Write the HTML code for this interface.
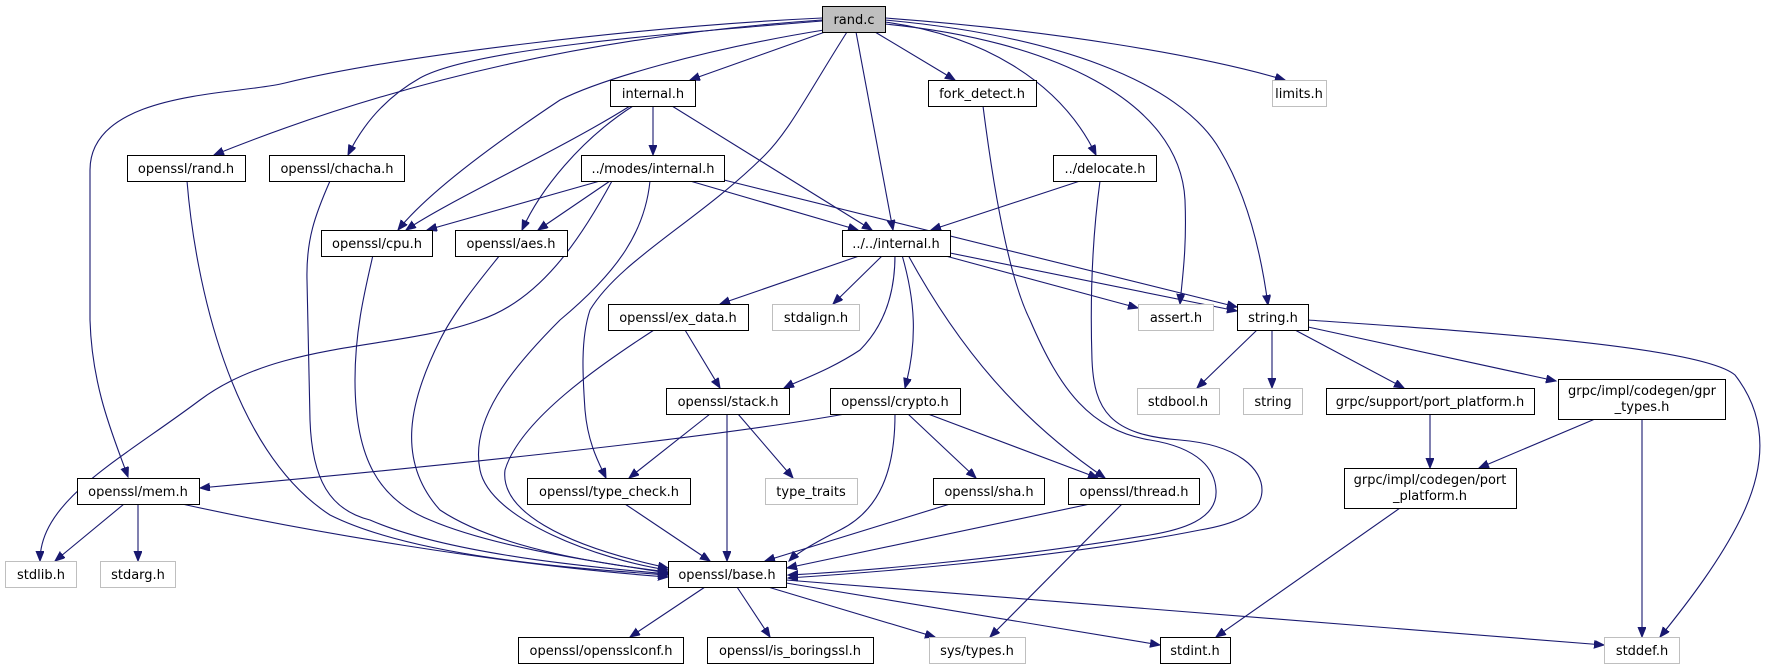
<!DOCTYPE html>
<html><head><meta charset="utf-8"><style>
html,body{margin:0;padding:0;background:#fff;}
svg{display:block;}
text{font-family:"DejaVu Sans","Liberation Sans",sans-serif;font-size:13px;fill:#000;}
.e{fill:none;stroke:#191970;stroke-width:1.1;marker-end:url(#a);}
.n{fill:#fff;stroke:#000;stroke-width:1;}
.g{fill:#fff;stroke:#bfbfbf;stroke-width:1;}
</style></head><body>
<svg width="1765" height="664" viewBox="0 0 1765 664" xmlns="http://www.w3.org/2000/svg">
<defs><marker id="a" markerUnits="userSpaceOnUse" markerWidth="12" markerHeight="10" refX="10" refY="4" orient="auto"><path d="M0,0 L10,4 L0,8 z" fill="#191970" stroke="#191970"/></marker></defs>

<path class="e" d="M822,18 C650,26 400,55 285,83 C240,95 90,90 90,170 L90,320 C92,390 115,440 128,477"/>
<path class="e" d="M822,20 C600,35 400,80 214,155"/>
<path class="e" d="M822,21 C650,35 470,50 420,78 C390,95 365,120 348,155"/>
<path class="e" d="M824,30 C700,50 600,80 560,100 C500,140 430,190 398,230"/>
<path class="e" d="M825,32 L690,80"/>
<path class="e" d="M847,32 C810,90 790,130 765,155 C700,220 620,260 590,310 C580,340 583,380 585,410 C588,445 600,465 606,478"/>
<path class="e" d="M856,32 L893,230"/>
<path class="e" d="M875,32 L955,80"/>
<path class="e" d="M885,22 C980,35 1060,80 1096,155"/>
<path class="e" d="M885,24 C1050,40 1180,100 1185,200 C1187,250 1182,280 1180,304"/>
<path class="e" d="M885,20 C1050,35 1180,80 1220,150 C1250,200 1262,260 1268,305"/>
<path class="e" d="M885,18 C1050,30 1200,55 1285,80"/>

<path class="e" d="M630,106 C560,150 450,200 406,230"/>
<path class="e" d="M633,106 C580,140 540,190 522,230"/>
<path class="e" d="M653,106 L653,155"/>
<path class="e" d="M672,106 L872,230"/>

<path class="e" d="M600,181 L427,230"/>
<path class="e" d="M610,181 L538,230"/>
<path class="e" d="M690,181 L858,230"/>
<path class="e" d="M724,180 L1237,307"/>
<path class="e" d="M612,181 C580,240 540,300 480,320 C400,350 280,340 200,400 C120,460 40,500 40,561"/>
<path class="e" d="M650,181 C645,230 620,270 560,320 C510,370 470,420 480,470 C490,520 600,560 668,570"/>

<path class="e" d="M187,181 C195,280 230,450 330,515 C420,560 600,570 668,575"/>
<path class="e" d="M330,181 C315,215 306,240 307,280 L310,420 C312,480 330,510 370,520 C450,555 600,568 668,574"/>
<path class="e" d="M373,255 C365,290 355,330 355,380 C355,460 380,500 430,520 C500,550 620,565 668,573"/>
<path class="e" d="M500,255 C480,280 455,310 440,340 C410,400 395,460 440,510 C500,550 610,565 668,572"/>
<path class="e" d="M654,330 C600,365 520,420 505,470 C500,510 560,545 668,568"/>

<path class="e" d="M983,106 C995,200 1010,280 1030,320 C1060,390 1090,430 1150,440 C1200,448 1215,470 1216,490 C1218,520 1180,530 1150,535 C1000,560 850,572 788,575"/>
<path class="e" d="M1100,181 C1092,240 1090,300 1092,360 C1094,410 1110,435 1180,440 C1240,445 1262,470 1262,490 C1262,515 1230,525 1200,530 C1050,560 850,574 788,578"/>
<path class="e" d="M1080,181 L931,230"/>

<path class="e" d="M862,255 L720,304"/>
<path class="e" d="M883,255 L833,304"/>
<path class="e" d="M895,255 C895,300 880,330 860,350 C830,370 800,380 784,388"/>
<path class="e" d="M902,255 C915,300 918,340 905,388"/>
<path class="e" d="M908,255 C960,350 1020,420 1105,478"/>
<path class="e" d="M942,255 L1138,308"/>
<path class="e" d="M950,253 L1237,311"/>

<path class="e" d="M685,330 L720,388"/>
<path class="e" d="M710,414 L629,478"/>
<path class="e" d="M727,414 L727,561"/>
<path class="e" d="M738,414 L793,478"/>
<path class="e" d="M845,414 C700,440 400,470 200,488"/>
<path class="e" d="M895,414 C895,470 880,510 840,530 C810,545 795,555 789,561"/>
<path class="e" d="M908,414 L976,478"/>
<path class="e" d="M928,414 L1098,478"/>

<path class="e" d="M124,504 L55,561"/>
<path class="e" d="M138,504 L138,561"/>
<path class="e" d="M182,504 C300,530 500,565 668,577"/>
<path class="e" d="M625,504 L710,561"/>
<path class="e" d="M950,504 L765,561"/>
<path class="e" d="M1090,504 L787,568"/>
<path class="e" d="M1122,504 L990,637"/>

<path class="e" d="M705,587 L630,637"/>
<path class="e" d="M737,587 L770,637"/>
<path class="e" d="M768,587 L935,637"/>
<path class="e" d="M786,583 L1160,645"/>
<path class="e" d="M786,580 C1000,598 1300,620 1604,645"/>

<path class="e" d="M1257,330 L1197,388"/>
<path class="e" d="M1272,330 L1272,388"/>
<path class="e" d="M1295,330 L1404,388"/>
<path class="e" d="M1308,327 L1556,381"/>
<path class="e" d="M1308,320 C1450,330 1700,345 1735,375 C1770,420 1765,470 1740,520 C1720,560 1690,600 1660,637"/>
<path class="e" d="M1430,414 L1430,468"/>
<path class="e" d="M1595,419 L1479,468"/>
<path class="e" d="M1642,419 L1642,637"/>
<path class="e" d="M1400,508 L1216,637"/>

<g text-anchor="middle">
<rect x="822.5" y="6.5" width="63" height="26" fill="#bfbfbf" stroke="#000"/><text x="854" y="24">rand.c</text>
<rect class="n" x="610.5" y="80.5" width="85" height="26"/><text x="653" y="98">internal.h</text>
<rect class="n" x="928.5" y="80.5" width="108" height="26"/><text x="982" y="98">fork_detect.h</text>
<rect class="g" x="1272.5" y="80.5" width="54" height="26"/><text x="1299" y="98">limits.h</text>
<rect class="n" x="127.5" y="155.5" width="118" height="26"/><text x="186" y="173">openssl/rand.h</text>
<rect class="n" x="269.5" y="155.5" width="135" height="26"/><text x="337" y="173">openssl/chacha.h</text>
<rect class="n" x="581.5" y="155.5" width="143" height="26"/><text x="653" y="173">../modes/internal.h</text>
<rect class="n" x="1053.5" y="155.5" width="103" height="26"/><text x="1105" y="173">../delocate.h</text>
<rect class="n" x="321.5" y="230.5" width="111" height="26"/><text x="377" y="248">openssl/cpu.h</text>
<rect class="n" x="455.5" y="230.5" width="112" height="26"/><text x="511" y="248">openssl/aes.h</text>
<rect class="n" x="842.5" y="230.5" width="108" height="26"/><text x="896" y="248">../../internal.h</text>
<rect class="n" x="608.5" y="304.5" width="140" height="26"/><text x="678" y="322">openssl/ex_data.h</text>
<rect class="g" x="772.5" y="304.5" width="87" height="26"/><text x="816" y="322">stdalign.h</text>
<rect class="g" x="1138.5" y="304.5" width="75" height="26"/><text x="1176" y="322">assert.h</text>
<rect class="n" x="1237.5" y="304.5" width="71" height="26"/><text x="1273" y="322">string.h</text>
<rect class="n" x="666.5" y="388.5" width="123" height="26"/><text x="728" y="406">openssl/stack.h</text>
<rect class="n" x="830.5" y="388.5" width="130" height="26"/><text x="895" y="406">openssl/crypto.h</text>
<rect class="g" x="1137.5" y="388.5" width="82" height="26"/><text x="1178" y="406">stdbool.h</text>
<rect class="g" x="1243.5" y="388.5" width="59" height="26"/><text x="1273" y="406">string</text>
<rect class="n" x="1326.5" y="388.5" width="208" height="26"/><text x="1430" y="406">grpc/support/port_platform.h</text>
<rect class="n" x="1558.5" y="379.5" width="167" height="40"/><text x="1642" y="395">grpc/impl/codegen/gpr</text><text x="1642" y="411">_types.h</text>
<rect class="n" x="77.5" y="478.5" width="122" height="26"/><text x="138" y="496">openssl/mem.h</text>
<rect class="n" x="527.5" y="478.5" width="163" height="26"/><text x="609" y="496">openssl/type_check.h</text>
<rect class="g" x="765.5" y="478.5" width="92" height="26"/><text x="811" y="496">type_traits</text>
<rect class="n" x="933.5" y="478.5" width="111" height="26"/><text x="989" y="496">openssl/sha.h</text>
<rect class="n" x="1068.5" y="478.5" width="131" height="26"/><text x="1134" y="496">openssl/thread.h</text>
<rect class="n" x="1344.5" y="468.5" width="172" height="40"/><text x="1430" y="484">grpc/impl/codegen/port</text><text x="1430" y="500">_platform.h</text>
<rect class="g" x="5.5" y="561.5" width="71" height="26"/><text x="41" y="579">stdlib.h</text>
<rect class="g" x="100.5" y="561.5" width="75" height="26"/><text x="138" y="579">stdarg.h</text>
<rect class="n" x="668.5" y="561.5" width="118" height="26"/><text x="727" y="579">openssl/base.h</text>
<rect class="n" x="518.5" y="637.5" width="165" height="26"/><text x="601" y="655">openssl/opensslconf.h</text>
<rect class="n" x="707.5" y="637.5" width="166" height="26"/><text x="790" y="655">openssl/is_boringssl.h</text>
<rect class="g" x="929.5" y="637.5" width="96" height="26"/><text x="977" y="655">sys/types.h</text>
<rect class="n" x="1160.5" y="637.5" width="70" height="26"/><text x="1195" y="655">stdint.h</text>
<rect class="g" x="1604.5" y="637.5" width="75" height="26"/><text x="1642" y="655">stddef.h</text>
</g>
</svg>
</body></html>
